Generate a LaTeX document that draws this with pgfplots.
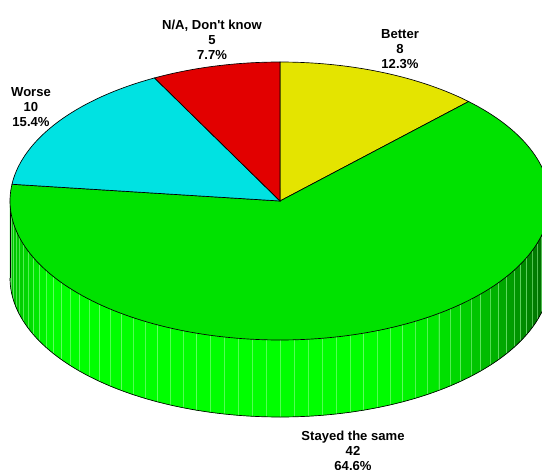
\documentclass[border=0pt]{standalone}
\usepackage{pgfplots}
\pgfplotsset{compat=1.18}
\usepackage{fontspec}
\setmainfont{Liberation Sans}
\definecolor{cBetter}{RGB}{228,228,0}
\definecolor{cSame}{RGB}{0,226,0}
\definecolor{cWorse}{RGB}{0,226,226}
\definecolor{cNA}{RGB}{226,0,0}
\begin{document}
\begin{tikzpicture}
% counts: Better, Stayed the same, Worse, N/A Don't know
\pgfmathsetmacro\vB{8}
\pgfmathsetmacro\vS{42}
\pgfmathsetmacro\vW{10}
\pgfmathsetmacro\vN{5}
\pgfmathsetmacro\tot{\vB+\vS+\vW+\vN}
\pgfmathsetmacro\aB{90-\vB/\tot*360}
\pgfmathsetmacro\aS{\aB-\vS/\tot*360}
\pgfmathsetmacro\aW{\aS-\vW/\tot*360}
\pgfmathsetmacro\aN{\aW-\vN/\tot*360}
\begin{axis}[width=406.5pt,height=351.75pt,scale only axis,
  xmin=0,xmax=542,ymin=0,ymax=469,hide axis,clip=true]
% side of the pie (front half), drawn as facets
\pgfplotsinvokeforeach{0,...,59}{
  \pgfmathsetmacro\ta{180+3*#1}
  \pgfmathsetmacro\tb{\ta+3}
  \pgfmathsetmacro\xa{280+270*cos(\ta)}
  \pgfmathsetmacro\xb{280+270*cos(\tb)}
  \pgfmathsetmacro\ya{268+139*sin(\ta)}
  \pgfmathsetmacro\yb{268+139*sin(\tb)}
  \pgfmathsetmacro\yab{\ya-77}
  \pgfmathsetmacro\ybb{\yb-77}
  \pgfmathsetmacro\cc{cos(\ta+1.5)}
  \pgfmathtruncatemacro\g{\cc<-0.85 ? 190+(\cc+1)*433 : (\cc<0.3 ? 255 : max(95,255-316*(\cc-0.3)^2))}
  \edef\tmp{\noexpand\addplot[draw={rgb,255:red,0;green,\g;blue,0},line width=0.2pt,fill={rgb,255:red,0;green,\g;blue,0}] coordinates {(\xa,\ya) (\xb,\yb) (\xb,\ybb) (\xa,\yab)} -- cycle;}
  \tmp
}
\pgfplotsinvokeforeach{1,...,59}{
  \pgfmathsetmacro\ta{180+3*#1}
  \pgfmathsetmacro\xa{280+270*cos(\ta)}
  \pgfmathsetmacro\ya{268+139*sin(\ta)}
  \pgfmathsetmacro\yab{\ya-77}
  \edef\tmp{\noexpand\addplot[draw={rgb,255:red,150;green,255;blue,150},line width=0.3pt,opacity=0.55] coordinates {(\xa,\ya) (\xa,\yab)};}
  \tmp
}
% outline of the side
\addplot[black,line width=0.5pt,domain=180:360,samples=120] ({280+270*cos(x)},{191+139*sin(x)});
\addplot[black,line width=0.5pt] coordinates {(10,268) (10,191)};
% top face slices
\addplot[fill=cBetter,draw=black,line width=0.5pt,domain=\aB:90,samples=40] ({280+270*cos(x)},{268+139*sin(x)}) -- (axis cs:280,268) -- cycle;
\addplot[fill=cSame,draw=black,line width=0.5pt,domain=\aS:\aB,samples=160] ({280+270*cos(x)},{268+139*sin(x)}) -- (axis cs:280,268) -- cycle;
\addplot[fill=cWorse,draw=black,line width=0.5pt,domain=\aW:\aS,samples=50] ({280+270*cos(x)},{268+139*sin(x)}) -- (axis cs:280,268) -- cycle;
\addplot[fill=cNA,draw=black,line width=0.5pt,domain=\aN:\aW,samples=30] ({280+270*cos(x)},{268+139*sin(x)}) -- (axis cs:280,268) -- cycle;
% labels
\tikzset{lbl/.style={align=center,inner sep=0pt,font=\fontsize{9.8}{11.3}\selectfont\bfseries}}
\node[lbl] at (axis cs:212,429.5) {N/A, Don\textquotesingle t know\\5\\7.7\%};
\node[lbl] at (axis cs:400,420) {Better\\8\\12.3\%};
\node[lbl] at (axis cs:31,362) {Worse\\10\\15.4\%};
\node[lbl] at (axis cs:353,18) {Stayed the same\\42\\64.6\%};
\end{axis}
\pgfresetboundingbox
\path[use as bounding box] (current axis.south west) rectangle (current axis.north east);
\end{tikzpicture}
\end{document}
